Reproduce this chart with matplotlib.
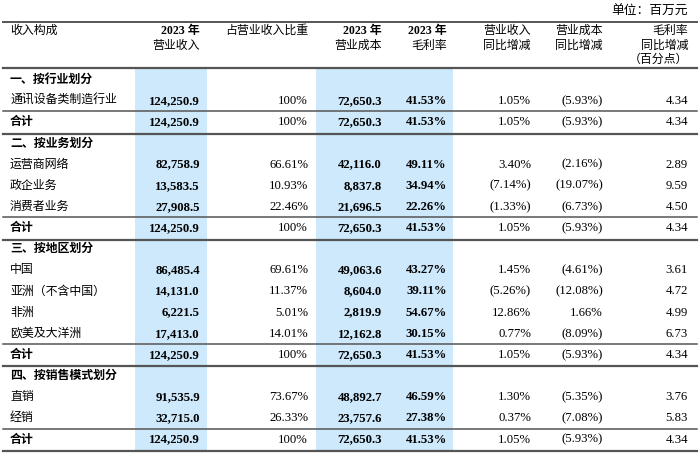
import matplotlib.pyplot as plt
from matplotlib.patches import Rectangle

plt.rcParams['font.family'] = ['Liberation Serif', 'Noto Sans CJK SC']

# table data
labels = ["一、按行业划分", "通讯设备类制造行业", "合计",
          "二、按业务划分", "运营商网络", "政企业务", "消费者业务", "合计",
          "三、按地区划分", "中国", "亚洲（不含中国）", "非洲", "欧美及大洋洲", "合计",
          "四、按销售模式划分", "直销", "经销", "合计"]
kinds = ["sec", "item", "total",
         "sec", "item", "item", "item", "total",
         "sec", "item", "item", "item", "item", "total",
         "sec", "item", "item", "total"]
revenue = [None, 124250.9, 124250.9,
           None, 82758.9, 13583.5, 27908.5, 124250.9,
           None, 86485.4, 14131.0, 6221.5, 17413.0, 124250.9,
           None, 91535.9, 32715.0, 124250.9]
share = [None, 100, 100,
         None, 66.61, 10.93, 22.46, 100,
         None, 69.61, 11.37, 5.01, 14.01, 100,
         None, 73.67, 26.33, 100]
cost = [None, 72650.3, 72650.3,
        None, 42116.0, 8837.8, 21696.5, 72650.3,
        None, 49063.6, 8604.0, 2819.9, 12162.8, 72650.3,
        None, 48892.7, 23757.6, 72650.3]
margin = [None, 41.53, 41.53,
          None, 49.11, 34.94, 22.26, 41.53,
          None, 43.27, 39.11, 54.67, 30.15, 41.53,
          None, 46.59, 27.38, 41.53]
rev_yoy = [None, 1.05, 1.05,
           None, 3.40, -7.14, -1.33, 1.05,
           None, 1.45, -5.26, 12.86, 0.77, 1.05,
           None, 1.30, 0.37, 1.05]
cost_yoy = [None, -5.93, -5.93,
            None, -2.16, -19.07, -6.73, -5.93,
            None, -4.61, -12.08, 1.66, -8.09, -5.93,
            None, -5.35, -7.08, -5.93]
margin_chg = [None, 4.34, 4.34,
              None, 2.89, 9.59, 4.50, 4.34,
              None, 3.61, 4.72, 4.99, 6.73, 4.34,
              None, 3.76, 5.83, 4.34]

headers = [["收入构成"], ["2023 年", "营业收入"], ["占营业收入比重"],
           ["2023 年", "营业成本"], ["2023 年", "毛利率"],
           ["营业收入", "同比增减"], ["营业成本", "同比增减"],
           ["毛利率", "同比增减", "（百分点）"]]


def pct(v):
    return f"({abs(v):.2f}%)" if v < 0 else f"{v:.2f}%"


fig = plt.figure(figsize=(7, 4.55), dpi=100)
ax = fig.add_axes([0, 0, 1, 1])
ax.set_xlim(0, 700)
ax.set_ylim(455, 0)
ax.axis("off")

fs = 8.6
col_x = [10, 200, 308, 382, 447, 531, 603, 688]
blue = "#cde9fb"
line_c = "#555555"

ax.add_patch(Rectangle((135, 68), 72, 384, color=blue, lw=0, zorder=0))
ax.add_patch(Rectangle((316, 68), 137, 384, color=blue, lw=0, zorder=0))

ax.text(688, 12, "单位：百万元", ha="right", va="center", fontsize=fs + 0.6)

for j, lines in enumerate(headers):
    for k, t in enumerate(lines):
        ha = "left" if j == 0 else "right"
        w = "bold" if t.startswith("2023") else "normal"
        ax.text(col_x[j], 31 + 14.5 * k, t, ha=ha, va="center", fontsize=fs, fontweight=w)

ax.plot([3, 697], [22, 22], color=line_c, lw=1.4)
ax.plot([3, 697], [68, 68], color=line_c, lw=1.6)

pitch = 21.15
for i, lab in enumerate(labels):
    y = 80 + pitch * i
    kind = kinds[i]
    bold = "bold" if kind != "item" else "normal"
    ax.text(col_x[0], y, lab, ha="left", va="center", fontsize=fs, fontweight=bold)
    if kind == "total":
        ax.plot([3, 697], [y - 11, y - 11], color=line_c, lw=1.1)
        ax.plot([3, 697], [y + 11.5, y + 11.5], color=line_c, lw=1.6)
    if revenue[i] is None:
        continue
    sh = "100%" if share[i] == 100 else f"{share[i]:.2f}%"
    vals = [f"{revenue[i]:,.1f}", sh, f"{cost[i]:,.1f}", f"{margin[i]:.2f}%",
            pct(rev_yoy[i]), pct(cost_yoy[i]), f"{margin_chg[i]:.2f}"]
    for j, v in enumerate(vals):
        w = "bold" if j in (0, 2, 3) else "normal"
        ax.text(col_x[j + 1], y, v, ha="right", va="center", fontsize=fs + 0.6, fontweight=w)

fig.savefig("out.png", dpi=100)
